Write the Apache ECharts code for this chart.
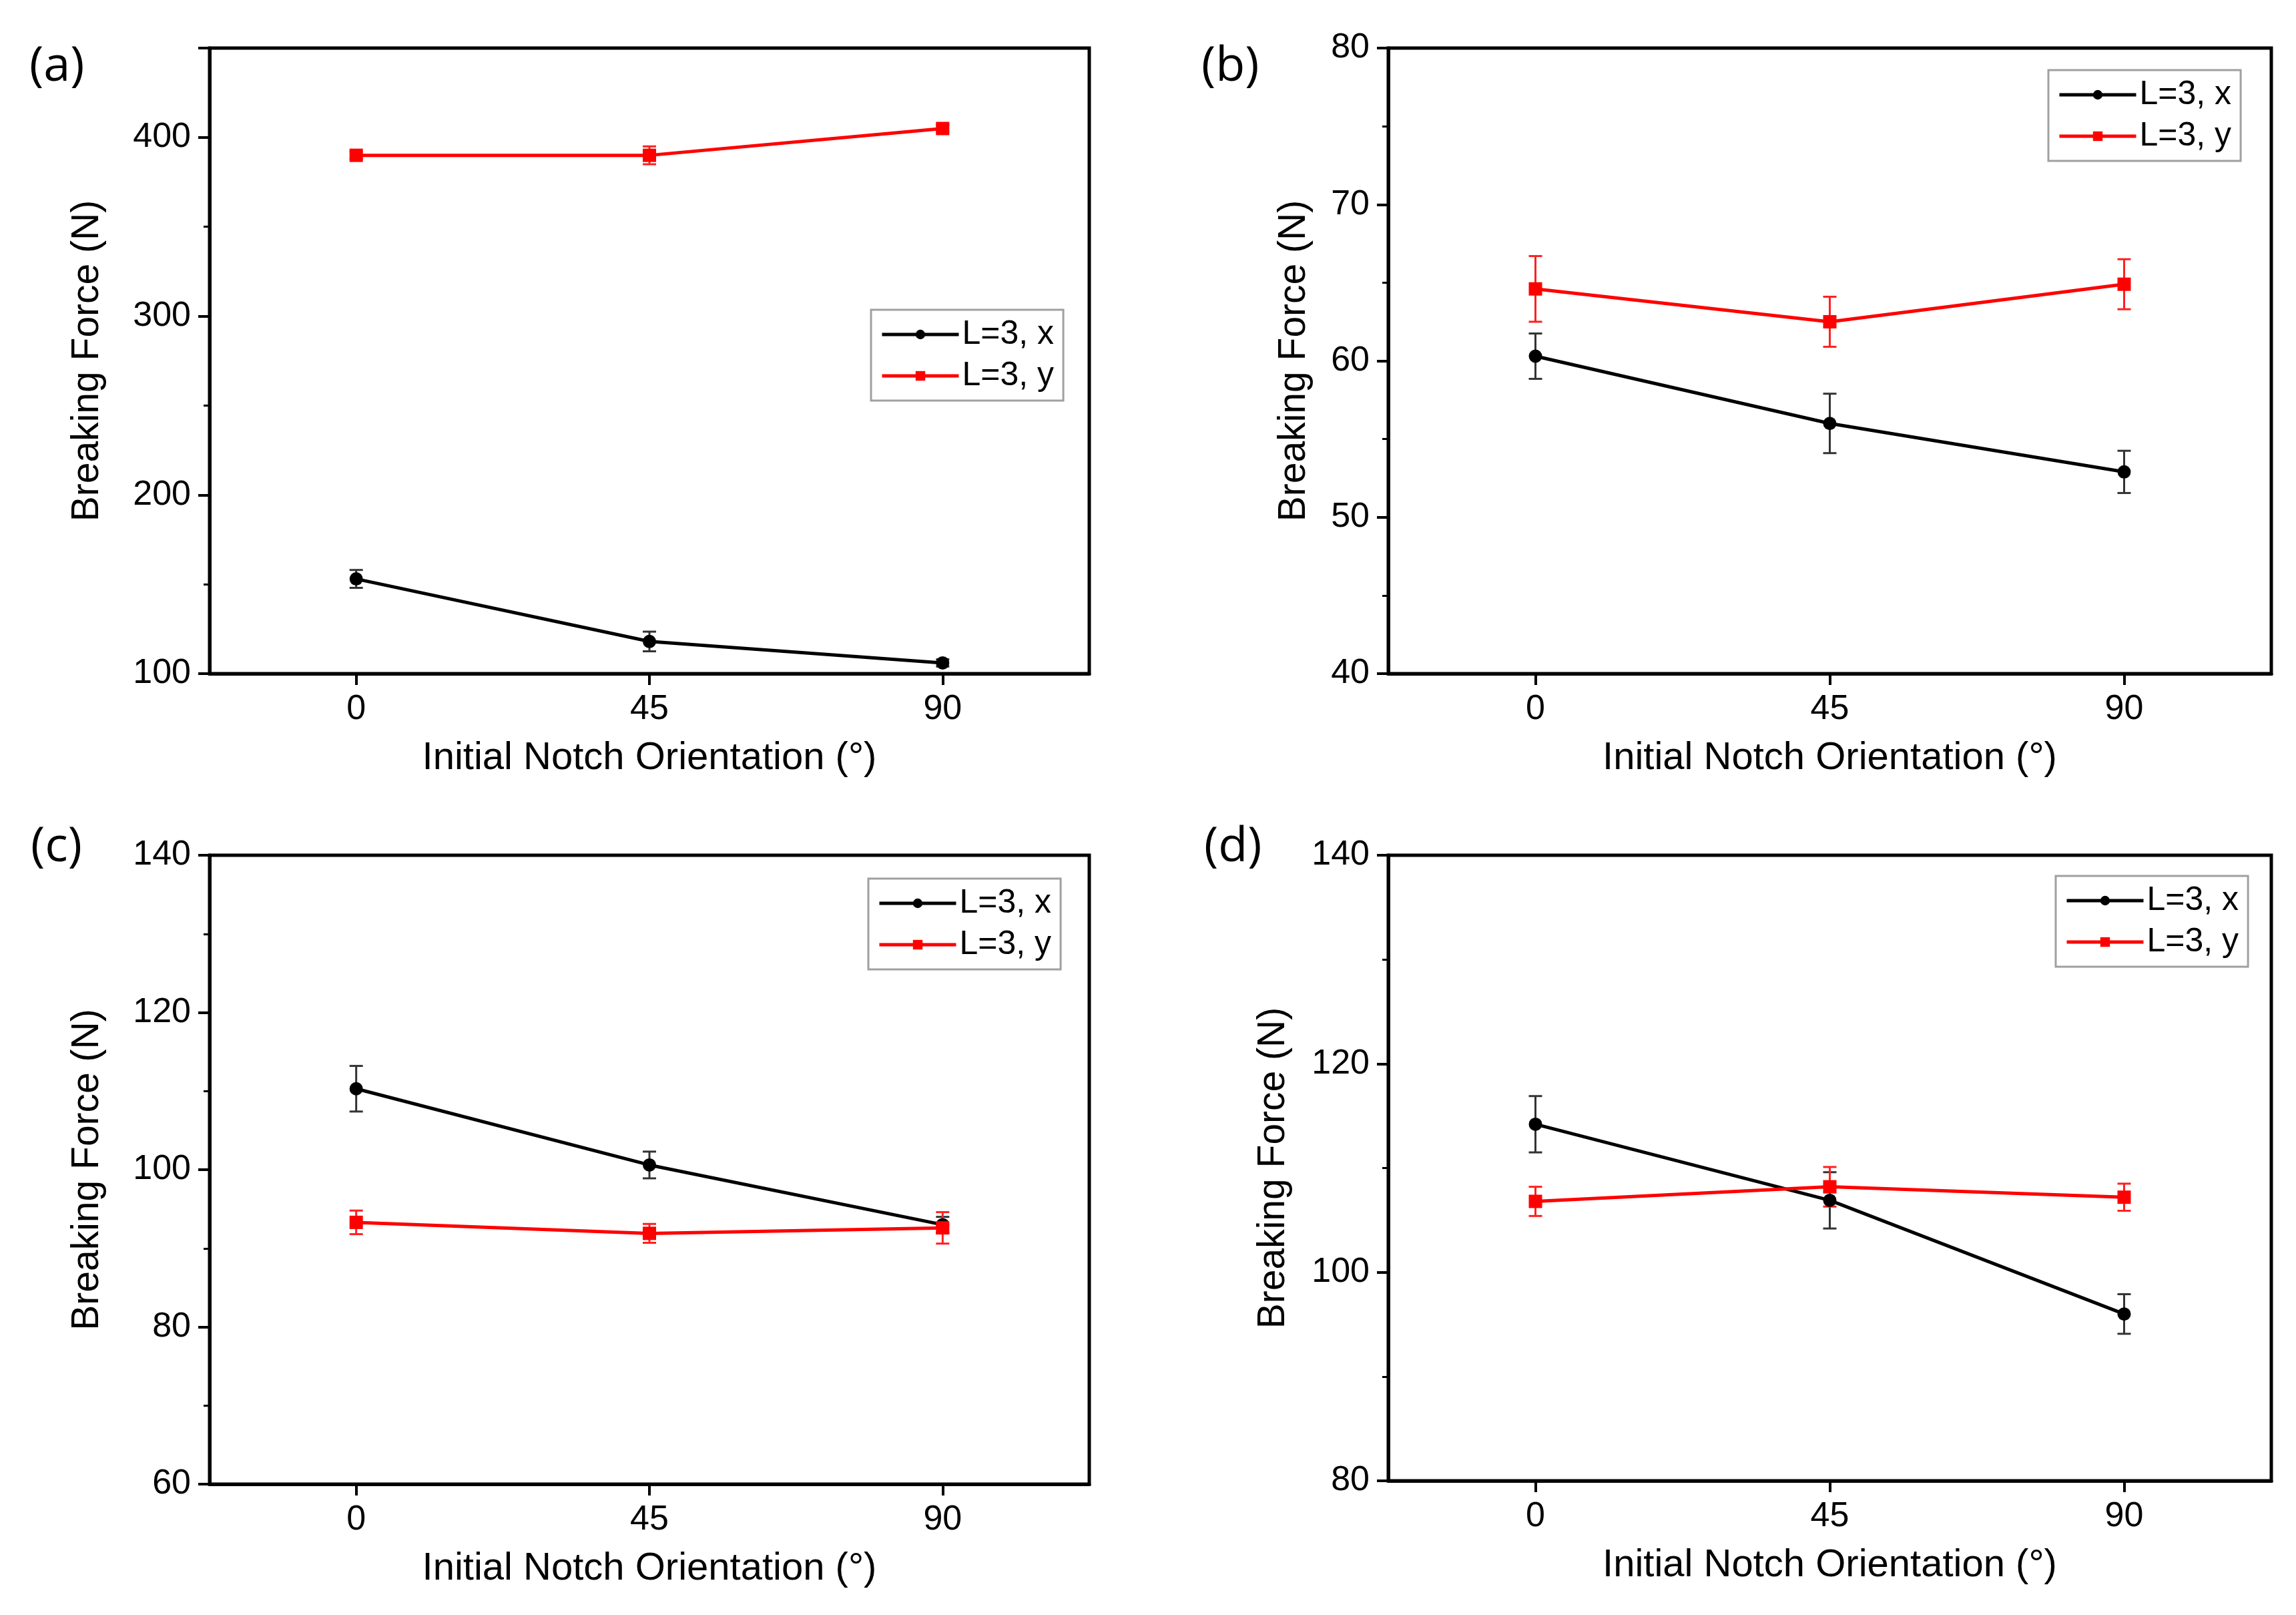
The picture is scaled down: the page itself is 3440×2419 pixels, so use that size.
<!DOCTYPE html>
<html>
<head>
<meta charset="utf-8">
<script src="https://cdn.jsdelivr.net/npm/echarts@6/dist/echarts.min.js"></script>
<style>
html,body{margin:0;padding:0;background:#fff;}
#chart{width:3440px;height:2419px;}
</style>
</head>
<body>
<div id="chart"></div>
<script>
// ---- data ----
const categories = ['0', '45', '90'];
const seriesNames = ['L=3, x', 'L=3, y'];
const panelLabels = ['(a)', '(b)', '(c)', '(d)'];

const aX = [153, 118, 106];      const aXerr = [5, 5.5, 2];
const aY = [390, 390, 405];      const aYerr = [2, 5, 2];
const bX = [60.3, 56.0, 52.9];   const bXerr = [1.45, 1.9, 1.35];
const bY = [64.6, 62.5, 64.9];   const bYerr = [2.1, 1.6, 1.6];
const cX = [110.3, 100.6, 93.0]; const cXerr = [2.9, 1.7, 1.0];
const cY = [93.3, 91.9, 92.6];   const cYerr = [1.5, 1.2, 2.0];
const dX = [114.2, 106.9, 96.0]; const dXerr = [2.7, 2.7, 1.9];
const dY = [106.8, 108.2, 107.2];const dYerr = [1.4, 1.9, 1.3];

const yMin = [100, 40, 60, 80];
const yMax = [450, 80, 140, 140];
const yInterval = [100, 10, 20, 20];

const xTitle = 'Initial Notch Orientation (°)';
const yTitle = 'Breaking Force (N)';

// ---- layout ----
const grids = [
  {left: 314, top: 72, width: 1318, height: 937},
  {left: 2080, top: 72, width: 1323, height: 937},
  {left: 314, top: 1281, width: 1318, height: 942},
  {left: 2080, top: 1281, width: 1323, height: 937}
];
const yNameGaps = [154, 112, 154, 143];
const legendPos = [
  {left: 1305, top: 464},
  {left: 3069, top: 105},
  {left: 1301, top: 1316},
  {left: 3080, top: 1312}
];
const labelPos = [[44, 114], [1800, 114], [46, 1283], [1804, 1283]];

const dataX = [aX, bX, cX, dX];
const errX = [aXerr, bXerr, cXerr, dXerr];
const dataY = [aY, bY, cY, dY];
const errY = [aYerr, bYerr, cYerr, dYerr];

const COLORS = ['#000000', '#ff0000'];
const ERRCOLORS = ['#333333', '#ff2020'];
const tickFont = 'Liberation Sans, Arial, sans-serif';

function errRender(color) {
  return function (params, api) {
    const i = api.value(0), v = api.value(1), e = api.value(2);
    const t = api.coord([i, v + e]);
    const b = api.coord([i, v - e]);
    const hw = 10;
    const st = {stroke: color, lineWidth: 3};
    return {
      type: 'group',
      children: [
        {type: 'line', shape: {x1: t[0], y1: t[1], x2: b[0], y2: b[1]}, style: st},
        {type: 'line', shape: {x1: t[0] - hw, y1: t[1], x2: t[0] + hw, y2: t[1]}, style: st},
        {type: 'line', shape: {x1: b[0] - hw, y1: b[1], x2: b[0] + hw, y2: b[1]}, style: st}
      ]
    };
  };
}

const option = {
  backgroundColor: '#ffffff',
  animation: false,
  grid: [], xAxis: [], yAxis: [], series: [], legend: [], graphic: []
};

for (let p = 0; p < 4; p++) {
  option.grid.push(Object.assign({show: true, borderColor: '#000', borderWidth: 5, backgroundColor: 'transparent'}, grids[p]));
  option.xAxis.push({
    type: 'category', gridIndex: p, data: categories, boundaryGap: true,
    name: xTitle, nameLocation: 'middle', nameGap: 98,
    nameTextStyle: {fontFamily: tickFont, fontSize: 58, color: '#000'},
    axisLine: {show: true, lineStyle: {color: '#000', width: 5}},
    axisTick: {show: true, alignWithLabel: true, inside: false, length: 17, lineStyle: {color: '#000', width: 4}},
    axisLabel: {fontFamily: tickFont, fontSize: 52, color: '#000', margin: 28},
    splitLine: {show: false}
  });
  option.yAxis.push({
    type: 'value', gridIndex: p, min: yMin[p], max: yMax[p], interval: yInterval[p],
    name: yTitle, nameLocation: 'middle', nameGap: yNameGaps[p], nameRotate: 90,
    nameTextStyle: {fontFamily: tickFont, fontSize: 57, color: '#000'},
    axisLine: {show: true, lineStyle: {color: '#000', width: 5}},
    axisTick: {show: true, inside: false, length: 17, lineStyle: {color: '#000', width: 4}},
    minorTick: {show: true, splitNumber: 2, length: 9, lineStyle: {color: '#000', width: 3}},
    axisLabel: {fontFamily: tickFont, fontSize: 52, color: '#000', margin: 28, showMaxLabel: p !== 0},
    splitLine: {show: false}, minorSplitLine: {show: false}
  });
  const sets = [[dataX[p], errX[p]], [dataY[p], errY[p]]];
  for (let s = 0; s < 2; s++) {
    option.series.push({
      type: 'custom', name: seriesNames[s] + ' err', xAxisIndex: p, yAxisIndex: p,
      renderItem: errRender(ERRCOLORS[s]),
      data: sets[s][0].map((v, i) => [i, v, sets[s][1][i]]),
      encode: {x: 0, y: 1}, z: 2, silent: true
    });
  }
  for (let s = 0; s < 2; s++) {
    option.series.push({
      type: 'line', name: seriesNames[s], xAxisIndex: p, yAxisIndex: p,
      data: sets[s][0],
      symbol: s === 0 ? 'circle' : 'rect', symbolSize: 20, showSymbol: true,
      lineStyle: {color: COLORS[s], width: 5},
      itemStyle: {color: COLORS[s]},
      z: 3
    });
  }
  option.legend.push({
    data: seriesNames, orient: 'vertical',
    left: legendPos[p].left, top: legendPos[p].top,
    itemWidth: 115, itemHeight: 18, itemGap: 12, itemTextGap: 14,
    padding: [12, 14, 12, 14],
    borderColor: '#a0a0a0', borderWidth: 3, backgroundColor: '#fff',
    lineStyle: {width: 5},
    textStyle: {fontFamily: tickFont, fontSize: 50, color: '#000', lineHeight: 50},
    selectedMode: false
  });
  option.graphic.push({
    type: 'text', left: labelPos[p][0], top: labelPos[p][1] - 50,
    style: {text: panelLabels[p], font: '72px "Open Sans", "Noto Sans", sans-serif', fill: '#000'}
  });
}

const chart = echarts.init(document.getElementById('chart'), null, {renderer: 'canvas'});
chart.setOption(option);
</script>
</body>
</html>
